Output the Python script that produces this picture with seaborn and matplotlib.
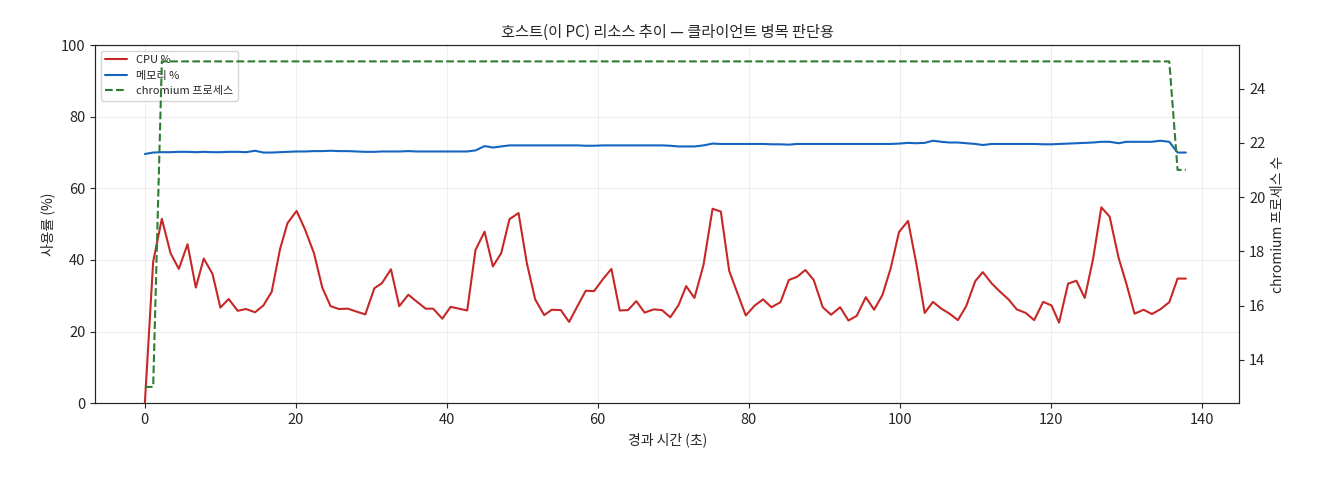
import matplotlib
matplotlib.use("Agg")
import matplotlib.pyplot as plt
import seaborn as sns

sns.set_style("ticks")
plt.rcParams['font.family'] = ['Noto Sans CJK KR', 'DejaVu Sans']
plt.rcParams['axes.unicode_minus'] = False

# 경과 시간 (초)
elapsed = [
    0.0, 1.1, 2.25, 3.4, 4.5, 5.65, 6.75, 7.8, 8.96, 10.0,
    11.1, 12.3, 13.4, 14.6, 15.7, 16.8, 17.9, 18.9, 20.1, 21.2,
    22.4, 23.5, 24.6, 25.7, 26.9, 28.0, 29.2, 30.4, 31.4, 32.6,
    33.7, 34.9, 36.0, 37.2, 38.2, 39.4, 40.5, 41.6, 42.7, 43.8,
    45.0, 46.1, 47.2, 48.3, 49.5, 50.6, 51.7, 52.9, 53.9, 55.1,
    56.2, 57.3, 58.4, 59.5, 60.7, 61.8, 62.9, 64.0, 65.1, 66.2,
    67.4, 68.5, 69.6, 70.7, 71.7, 72.8, 74.0, 75.2, 76.3, 77.4,
    78.5, 79.6, 80.8, 81.9, 83.0, 84.2, 85.3, 86.4, 87.5, 88.6,
    89.8, 90.9, 92.1, 93.2, 94.3, 95.5, 96.6, 97.7, 98.8, 99.9,
    101.1, 102.2, 103.3, 104.4, 105.5, 106.6, 107.7, 108.8, 110.0, 111.0,
    112.2, 113.2, 114.4, 115.5, 116.7, 117.8, 119.0, 120.1, 121.1, 122.3,
    123.4, 124.5, 125.6, 126.7, 127.8, 129.0, 130.0, 131.1, 132.3, 133.4,
    134.5, 135.7, 136.8, 137.9,
]

cpu_pct = [
    0.0, 39.5, 51.5, 41.9, 37.5, 44.4, 32.3, 40.4, 36.1, 26.7,
    29.1, 25.8, 26.3, 25.4, 27.3, 31.1, 43.0, 50.3, 53.7, 48.6,
    41.9, 32.3, 27.1, 26.3, 26.4, 25.6, 24.8, 32.1, 33.5, 37.4,
    27.1, 30.3, 28.4, 26.4, 26.4, 23.6, 26.9, 26.4, 25.9, 42.8,
    47.9, 38.2, 41.9, 51.4, 53.1, 39.1, 29.0, 24.6, 26.1, 26.0,
    22.7, 27.1, 31.4, 31.3, 34.7, 37.5, 25.9, 26.0, 28.5, 25.3,
    26.2, 26.0, 24.0, 27.4, 32.7, 29.4, 38.6, 54.3, 53.5, 37.0,
    30.7, 24.5, 27.3, 29.0, 26.8, 28.2, 34.4, 35.3, 37.2, 34.4,
    26.8, 24.7, 26.8, 23.1, 24.4, 29.6, 26.1, 30.2, 37.7, 47.8,
    50.9, 38.9, 25.2, 28.3, 26.4, 25.0, 23.2, 27.1, 34.1, 36.6,
    33.4, 31.3, 29.0, 26.2, 25.2, 23.2, 28.3, 27.3, 22.5, 33.4,
    34.2, 29.4, 40.2, 54.7, 52.1, 40.5, 33.5, 25.0, 26.1, 24.9,
    26.2, 28.2, 34.8, 34.8,
]

mem_pct = [
    69.6, 70.0, 70.1, 70.1, 70.2, 70.2, 70.1, 70.2, 70.1, 70.1,
    70.2, 70.2, 70.1, 70.5, 70.0, 70.0, 70.1, 70.2, 70.3, 70.3,
    70.4, 70.4, 70.5, 70.4, 70.4, 70.3, 70.2, 70.2, 70.3, 70.3,
    70.3, 70.4, 70.3, 70.3, 70.3, 70.3, 70.3, 70.3, 70.3, 70.6,
    71.8, 71.4, 71.7, 72.0, 72.0, 72.0, 72.0, 72.0, 72.0, 72.0,
    72.0, 72.0, 71.9, 71.9, 72.0, 72.0, 72.0, 72.0, 72.0, 72.0,
    72.0, 72.0, 71.9, 71.7, 71.7, 71.7, 72.0, 72.5, 72.4, 72.4,
    72.4, 72.4, 72.4, 72.4, 72.3, 72.3, 72.2, 72.4, 72.4, 72.4,
    72.4, 72.4, 72.4, 72.4, 72.4, 72.4, 72.4, 72.4, 72.4, 72.5,
    72.7, 72.6, 72.7, 73.3, 73.0, 72.8, 72.8, 72.6, 72.4, 72.1,
    72.4, 72.4, 72.4, 72.4, 72.4, 72.4, 72.3, 72.3, 72.4, 72.5,
    72.6, 72.7, 72.8, 73.0, 73.0, 72.6, 73.0, 73.0, 73.0, 73.0,
    73.3, 73.0, 70.0, 70.0,
]

chromium_procs = [13, 13] + [25] * 119 + [25, 21, 21]

fig, ax1 = plt.subplots(figsize=(13.2, 4.8), dpi=100)
fig.subplots_adjust(left=0.072, right=0.939, top=0.906, bottom=0.16)

sns.lineplot(x=elapsed, y=cpu_pct, ax=ax1, color="#c62828", linewidth=1.5, label="CPU %")
sns.lineplot(x=elapsed, y=mem_pct, ax=ax1, color="#1565c0", linewidth=1.5, label="메모리 %")
ax1.set_ylim(0, 100)
ax1.set_xlim(-6.6, 145.0)
ax1.set_xlabel("경과 시간 (초)", fontsize=10)
ax1.set_ylabel("사용률 (%)", fontsize=10)
ax1.grid(True, alpha=0.3)
ax1.tick_params(labelsize=10.5)

ax2 = ax1.twinx()
sns.lineplot(x=elapsed, y=chromium_procs, ax=ax2, color="#2e7d32", linewidth=1.5,
             linestyle="--", label="chromium 프로세스")
ax2.set_ylabel("chromium 프로세스 수", fontsize=10)
ax2.tick_params(labelsize=10.5)

h1, l1 = ax1.get_legend_handles_labels()
h2, l2 = ax2.get_legend_handles_labels()
if ax2.get_legend() is not None:
    ax2.get_legend().remove()
ax1.legend(h1 + h2, l1 + l2, loc="upper left", fontsize=8)

ax1.set_title("호스트(이 PC) 리소스 추이 — 클라이언트 병목 판단용", fontsize=11)

fig.savefig("out.png", dpi=100)
